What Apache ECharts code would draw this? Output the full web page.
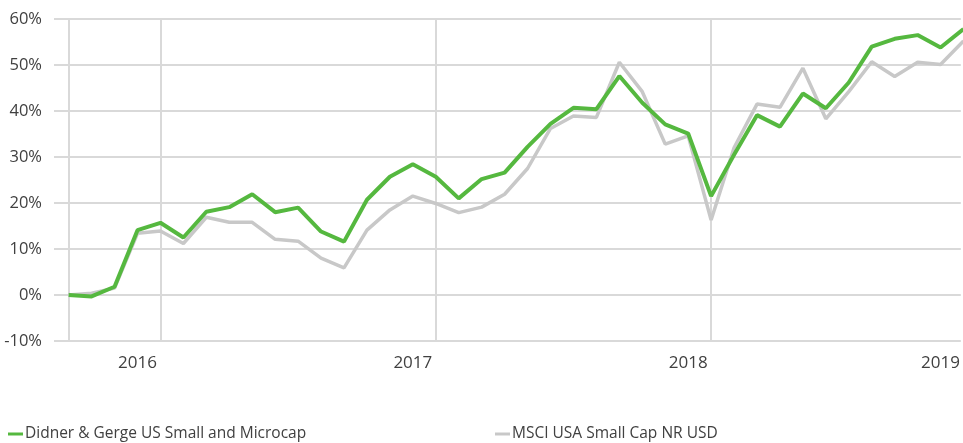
<!DOCTYPE html>
<html>
<head>
<meta charset="utf-8">
<script src="https://cdn.jsdelivr.net/npm/echarts@6/dist/echarts.min.js"></script>
<style>html,body{margin:0;padding:0;background:#fff}#c{width:963px;height:443px}</style>
</head>
<body>
<div id="c"></div>
<script>
// Month-end observations, Aug 2015 .. Nov 2018 (cumulative return, %)
const months = ['2015-08','2015-09','2015-10','2015-11','2015-12',
  '2016-01','2016-02','2016-03','2016-04','2016-05','2016-06','2016-07','2016-08','2016-09','2016-10','2016-11','2016-12',
  '2017-01','2017-02','2017-03','2017-04','2017-05','2017-06','2017-07','2017-08','2017-09','2017-10','2017-11','2017-12',
  '2018-01','2018-02','2018-03','2018-04','2018-05','2018-06','2018-07','2018-08','2018-09','2018-10','2018-11'];
const didner = [0,-0.3,1.8,14.1,15.7,12.5,18.1,19.1,21.9,18.0,19.0,13.8,11.6,20.7,25.7,28.4,25.7,21.0,25.2,26.6,
  32.2,37.2,40.7,40.4,47.6,41.8,37.1,35.1,21.5,30.5,39.1,36.6,43.8,40.6,46.2,54.0,55.7,56.5,53.8,57.8];
const msci = [0,0.4,1.5,13.4,13.9,11.2,16.9,15.8,15.8,12.1,11.7,8.0,5.9,14.1,18.5,21.5,19.9,17.9,19.1,21.9,
  27.5,36.2,38.9,38.6,50.6,44.2,32.8,34.6,16.3,32.0,41.5,40.8,49.3,38.3,44.2,50.7,47.5,50.6,50.1,55.2];
const seriesNames = ['Didner & Gerge US Small and Microcap','MSCI USA Small Cap NR USD'];
const yearLabels = ['2016','2017','2018','2019'];
const yearLabelIdx = [3,15,27,38];
const gridIdx = [0,4,16,28];

const toPairs = arr => arr.map((v,i)=>[i,v]);
const chart = echarts.init(document.getElementById('c'));
const font = '"Open Sans", sans-serif';
const legendText = {fontFamily:font,fontSize:15.5,color:'#404040',padding:[0,0,0,-3]};
chart.setOption({
  animation:false,
  grid:{left:54,right:0,top:19,bottom:102,containLabel:false},
  legend:[
    {data:[seriesNames[0]],left:8,top:426,padding:0,icon:'rect',itemWidth:15,itemHeight:3,itemGap:0,textStyle:legendText},
    {data:[seriesNames[1]],left:495,top:426,padding:0,icon:'rect',itemWidth:15,itemHeight:3,itemGap:0,textStyle:legendText}
  ],
  xAxis:{type:'value',min:-0.639,max:38.883,
    axisLine:{show:false},
    axisTick:{show:true,customValues:gridIdx,length:12,lineStyle:{color:'#d9d9d9',width:2}},
    splitLine:{show:true,lineStyle:{color:'#d9d9d9',width:2}},
    axisLabel:{customValues:yearLabelIdx,margin:14,fontFamily:font,fontSize:17,color:'#404040',
      formatter:v=>{const k=yearLabelIdx.indexOf(Math.round(v));return k>=0?yearLabels[k]:'';}}
  },
  yAxis:{type:'value',min:-10,max:60,interval:10,
    axisLine:{show:false},axisTick:{show:false},
    splitLine:{lineStyle:{color:'#d9d9d9',width:2}},
    axisLabel:{margin:12,fontFamily:font,fontSize:16.5,color:'#404040',formatter:'{value}%'}
  },
  series:[
    {name:seriesNames[1],type:'line',data:toPairs(msci),symbol:'none',z:2,
     lineStyle:{color:'#c8c8c8',width:3.5},itemStyle:{color:'#c8c8c8'}},
    {name:seriesNames[0],type:'line',data:toPairs(didner),symbol:'none',z:3,
     lineStyle:{color:'#55b83f',width:4},itemStyle:{color:'#55b83f'}}
  ]
});
</script>
</body>
</html>
